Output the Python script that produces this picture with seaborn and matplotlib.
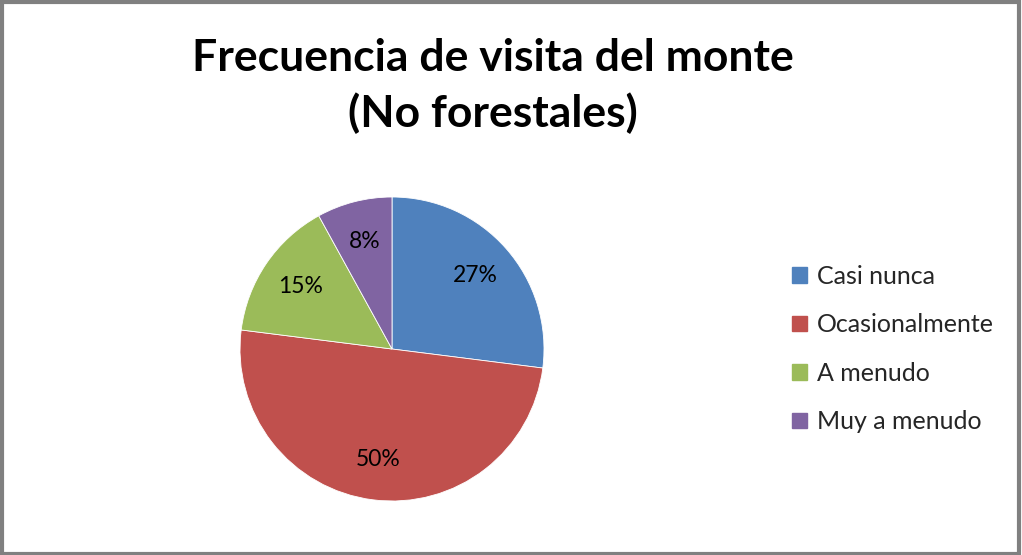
import matplotlib
matplotlib.use("Agg")
import matplotlib.pyplot as plt
import seaborn as sns
from matplotlib.patches import Rectangle

# data
categories = ["Casi nunca", "Ocasionalmente", "A menudo", "Muy a menudo"]
percentages = [27, 50, 15, 8]
colors = ["#4F81BD", "#C0504D", "#9BBB59", "#8064A2"]

sns.set_theme(style="white")
plt.rcParams['font.family'] = ['Lato', 'DejaVu Sans']

fig = plt.figure(figsize=(10.22, 5.55), dpi=100)
W, H = 1022, 555

# pie: center (392, 349), radius ~152 px
cx, cy, r = 392, 349, 152
ax = fig.add_axes([(cx - r) / W, (H - cy - r) / H, 2 * r / W, 2 * r / H])
wedges, texts, autotexts = ax.pie(
    percentages, colors=colors, startangle=90, counterclock=False,
    autopct='%d%%', pctdistance=0.73, radius=1.0,
    wedgeprops=dict(linewidth=0.6, edgecolor='white'),
    textprops=dict(fontsize=16.5, color='black'))
ax.set_xlim(-1, 1)
ax.set_ylim(-1, 1)
ax.set_aspect('equal')
ax.axis('off')

fig.text(493 / W, 1 - 86 / H, "Frecuencia de visita del monte\n(No forestales)",
         ha='center', va='center', fontsize=32, fontweight='bold',
         color='black', linespacing=1.4)

# legend
handles = [Rectangle((0, 0), 1, 1, color=c) for c in colors]
fig.legend(handles, categories, loc='center left',
           bbox_to_anchor=(769 / W, 1 - 349 / H), frameon=False,
           fontsize=18, handlelength=0.6, handleheight=0.6,
           handletextpad=0.4, labelspacing=1.02)

# outer frame
fig.patches.append(Rectangle((0.0015, 0.002), 0.996, 0.994, transform=fig.transFigure,
                             fill=False, edgecolor='#808080', linewidth=3))

fig.savefig("out.png", dpi=100, facecolor='white')
